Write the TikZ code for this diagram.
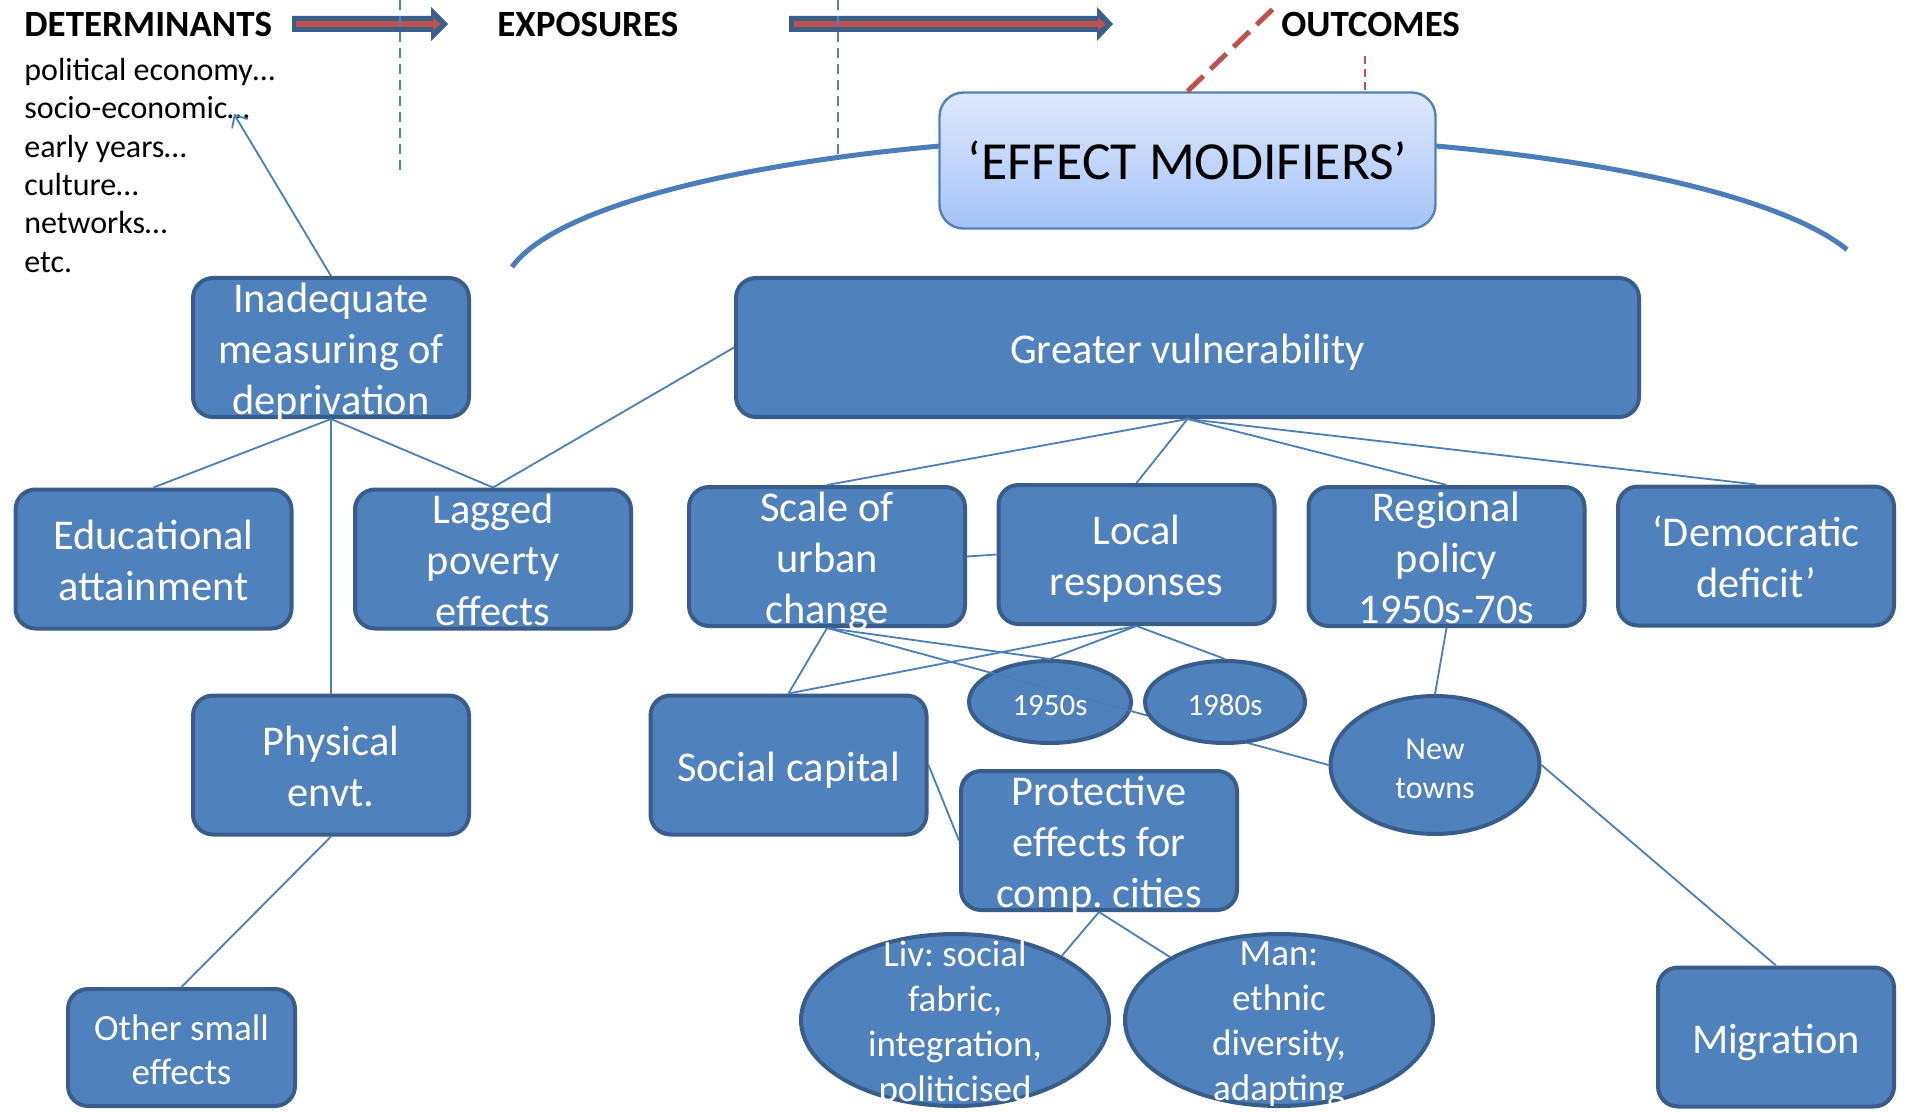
\documentclass[tikz,border=0pt]{standalone}
\usepackage{fontspec}
\setmainfont{Carlito}
\usetikzlibrary{arrows.meta,shapes.geometric}
\definecolor{boxfill}{HTML}{4F81BD}
\definecolor{boxedge}{HTML}{385D8A}
\definecolor{conncol}{HTML}{4A7EBB}
\definecolor{arrblue}{HTML}{3A5F8B}
\definecolor{arrred}{HTML}{C0504D}
\definecolor{emtop}{HTML}{DEE9FC}
\definecolor{embot}{HTML}{A5C3F8}
\frenchspacing
\begin{document}
\begin{tikzpicture}[x=0.5pt,y=-0.5pt,
  box/.style={draw=boxedge, fill=boxfill, line width=2pt, rounded corners=10pt,
    minimum width=138pt, minimum height=69.5pt, inner sep=0pt},
  ell/.style={ellipse, draw=boxedge, fill=boxfill, line width=2pt, inner sep=0pt},
  btext/.style={text=white, align=center, inner sep=0pt, yshift=-2.5pt, font=\fontsize{21.2}{25.5}\selectfont},
  boxtext/.style={btext, yshift=-1.8pt, execute at begin node=\strut, execute at end node=\strut},
  oneline/.style={yshift=1.2pt},
  stext/.style={btext, yshift=0.8pt},
  link/.style={draw=conncol, line width=0.9pt},
  head/.style={font=\bfseries\fontsize{18.5}{22}\selectfont, anchor=base west, inner sep=0pt},
  det/.style={font=\fontsize{16}{19}\selectfont, anchor=base west, inner sep=0pt},
  bluedash/.style={draw=boxfill, line width=1pt, dash pattern=on 5pt off 3pt},
]
\useasboundingbox (0,0) rectangle (1910,1112);

% headings
\node[head] (hdet) at (24,37) {DETERMINANTS};
\node[head] (hexp) at (497,37) {EXPOSURES};
\node[head] (hout) at (1281,37) {OUTCOMES};

% determinants list
\node[det] (d1) at (24,81) {political economy…};
\node[det] (d2) at (24,119) {socio-economic…};
\node[det] (d3) at (24,158) {early years…};
\node[det] (d4) at (24,196) {culture…};
\node[det] (d5) at (24,234) {networks…};
\node[det] (d6) at (24,273) {etc.};
\coordinate (se) at (234,114);

% block arrows
\fill[arrblue] (292,16) -- (431,16) -- (431,7) -- (448,24) -- (431,41) -- (431,32) -- (292,32) -- cycle;
\draw[arrred, line width=3pt, -{Triangle[length=4pt,width=6pt]}] (296,24) -- (441,24);
\fill[arrblue] (789,16) -- (1097,16) -- (1097,7) -- (1113,24) -- (1097,41) -- (1097,32) -- (789,32) -- cycle;
\draw[arrred, line width=3pt, -{Triangle[length=4pt,width=6pt]}] (794,24) -- (1106,24);

% dashed guide lines
\draw[bluedash] (400,0) -- (400,170);
\draw[bluedash] (838,0) -- (838,156);

% big arc
\draw[conncol, line width=2.5pt] (512,267) arc[start angle=170.7, end angle=15.8, x radius=342.5pt, y radius=78.5pt];

% effect modifiers
\node[draw=boxfill, line width=1.2pt, rounded corners=12pt, top color=emtop, bottom color=embot,
  minimum width=248pt, minimum height=68pt, inner sep=0pt, font=\fontsize{26.8}{30}\selectfont]
  (em) at (1187.5,160.5) {‘EFFECT MODIFIERS’};
\coordinate (rtop) at (1277,5);
\draw[arrred, line width=2.5pt, dash pattern=on 11pt off 5pt] (em.north) -- (rtop);
\coordinate (rsm) at (1365,56);
\draw[arrred, line width=1pt, dash pattern=on 4pt off 2.5pt] (rsm) -- (rsm |- em.north);

% boxes
\node[box] (inad) at (331,347.5) {};
\node[boxtext] (inadT) at (inad) {Inadequate\\measuring of\\deprivation};
\node[box, minimum width=451.5pt] (gv) at (1187.5,347.5) {};
\node[boxtext, oneline] (gvT) at (gv) {Greater vulnerability};
\node[box] (edu) at (153.5,559) {};
\node[boxtext] (eduT) at (edu) {Educational\\attainment};
\node[box] (lag) at (493,559) {};
\node[boxtext] (lagT) at (lag) {Lagged\\poverty\\effects};
\node[box] (scale) at (827,556.5) {};
\node[boxtext] (scaleT) at (scale) {Scale of\\urban\\change};
\node[box] (local) at (1136.5,554.5) {};
\node[boxtext] (localT) at (local) {Local\\responses};
\node[box] (reg) at (1446.5,556.5) {};
\node[boxtext] (regT) at (reg) {Regional\\policy\\1950s-70s};
\node[box] (dem) at (1756,556) {};
\node[boxtext] (demT) at (dem) {‘Democratic\\deficit’};
\node[box] (phys) at (331,765) {};
\node[boxtext] (physT) at (phys) {Physical\\envt.};
\node[box] (soc) at (788.5,765) {};
\node[boxtext, oneline] (socT) at (soc) {Social capital};
\node[box] (prot) at (1099,840.5) {};
\node[boxtext] (protT) at (prot) {Protective\\effects for\\comp. cities};
\node[box, minimum width=113.5pt, minimum height=58.5pt] (other) at (181.5,1047.5) {};
\node[boxtext, font=\fontsize{18.5}{22}\selectfont] (otherT) at (other) {Other small\\effects};
\node[box, minimum width=118pt] (mig) at (1776,1037) {};
\node[boxtext, oneline] (migT) at (mig) {Migration};

% ellipses
\node[ell, minimum width=81pt, minimum height=41pt] (e50) at (1050,702) {};
\node[stext, font=\fontsize{15.5}{18}\selectfont] (e50T) at (e50) {1950s};
\node[ell, minimum width=104.5pt, minimum height=69pt] (nt) at (1435,765) {};
\node[stext, font=\fontsize{16}{19.5}\selectfont] (ntT) at (nt) {New\\towns};
\node[ell, minimum width=154pt, minimum height=86pt] (liv) at (955,1020) {};
\node[btext, yshift=0.5pt, font=\fontsize{18.5}{22.5}\selectfont] (livT) at (liv) {Liv: social\\fabric,\\integration,\\politicised};
\node[ell, minimum width=154pt, minimum height=86pt] (man) at (1279,1020) {};
\node[btext, yshift=0.5pt, font=\fontsize{18.5}{22.5}\selectfont] (manT) at (man) {Man:\\ethnic\\diversity,\\adapting};

% line passing over 1950s but under 1980s
\draw[link] (scale.south) -- (nt.west);

\node[ell, minimum width=80pt, minimum height=41pt] (e80) at (1225,702) {};
\node[stext, font=\fontsize{15.5}{18}\selectfont] (e80T) at (e80) {1980s};

% connectors
\draw[link, -{Straight Barb[length=5pt,width=9pt]}] (inad.north) -- (se);
\draw[link] (inad.south) -- (edu.north);
\draw[link] (inad.south) -- (lag.north);
\draw[link] (inad.south) -- (phys.north);
\draw[link] (gv.west) -- (lag.north);
\draw[link] (gv.south) -- (scale.north);
\draw[link] (gv.south) -- (local.north);
\draw[link] (gv.south) -- (reg.north);
\draw[link] (gv.south) -- (dem.north);
\draw[link] (scale.east) -- (local.west);
\draw[link] (scale.south) -- (soc.north);
\draw[link] (scale.south) -- (e50.north);
\draw[link] (local.south) -- (e50.north);
\draw[link] (local.south) -- (soc.north);
\draw[link] (local.south) -- (e80.north);
\draw[link] (soc.east) -- (prot.west);
\draw[link] (prot.south) -- (liv.31);
\draw[link] (prot.south) -- (man.150);
\draw[link] (reg.south) -- (nt.north);
\draw[link] (nt.east) -- (mig.north);
\draw[link] (phys.south) -- (other.north);
\end{tikzpicture}
\end{document}
